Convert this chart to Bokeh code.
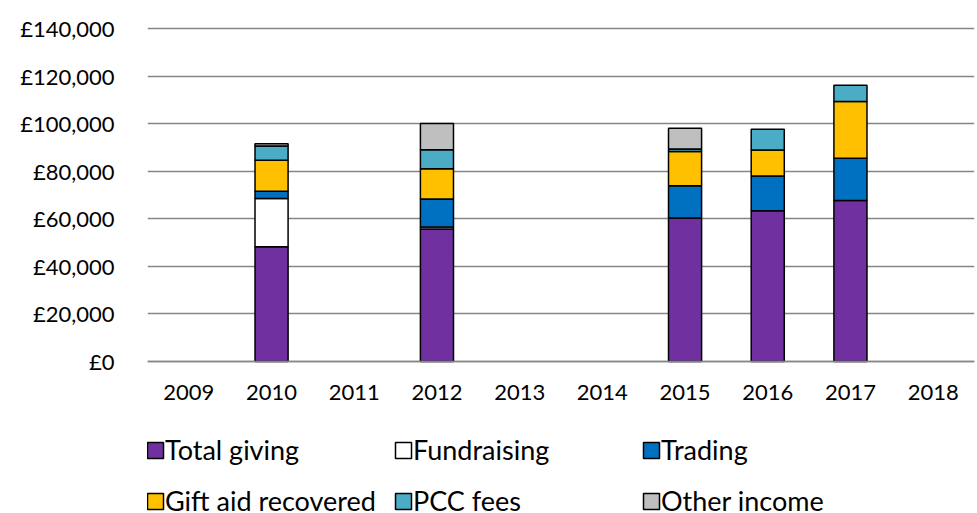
from bokeh.plotting import figure
from bokeh.models import (FactorRange, Range1d, FixedTicker, Legend, LegendItem,
                          ColumnDataSource)
from bokeh.embed import file_html
from bokeh.resources import INLINE

years = ["2009", "2010", "2011", "2012", "2013", "2014", "2015", "2016", "2017", "2018"]
total_giving = [0, 48300, 0, 55800, 0, 0, 60400, 63500, 67800, 0]
fundraising = [0, 20300, 0, 800, 0, 0, 0, 0, 0, 0]
trading = [0, 3100, 0, 11800, 0, 0, 13600, 14600, 17700, 0]
gift_aid = [0, 13000, 0, 12700, 0, 0, 14400, 10900, 23900, 0]
pcc_fees = [0, 6000, 0, 8000, 0, 0, 1000, 8800, 6900, 0]
other_income = [0, 1000, 0, 11100, 0, 0, 8800, 0, 0, 0]

series_names = ["Total giving", "Fundraising", "Trading", "Gift aid recovered", "PCC fees", "Other income"]
series_values = [total_giving, fundraising, trading, gift_aid, pcc_fees, other_income]
series_colors = ["#7030A0", "#FFFFFF", "#0070C0", "#FFC000", "#4BACC6", "#BFBFBF"]

y_ticks = [0, 20000, 40000, 60000, 80000, 100000, 120000, 140000]
y_tick_labels = ["£0", "£20,000", "£40,000", "£60,000", "£80,000", "£100,000", "£120,000", "£140,000"]

FONT = "Lato"

# layout (pixels)
W, H = 977, 513
TOP, LEFT, RIGHT = 26, 147, 3
FRAME_H = H - TOP            # frame runs to the bottom so the legend fits inside it
ZERO_PX = 335                # distance from frame top to the value axis zero line
Y_END = 141000
Y_START = -Y_END * (FRAME_H - ZERO_PX) / ZERO_PX

p = figure(x_range=FactorRange(*years, range_padding=0), y_range=Range1d(Y_START, Y_END),
           output_backend="svg", toolbar_location=None,
           width=W, height=H, frame_width=W - LEFT - RIGHT, frame_height=FRAME_H,
           min_border_left=LEFT, min_border_right=RIGHT, min_border_top=TOP, min_border_bottom=0)
p.outline_line_color = None
p.background_fill_color = "white"
p.border_fill_color = "white"

renderers = []
base = [0] * len(years)
for name, vals, col in zip(series_names, series_values, series_colors):
    xs, bots, tops = [], [], []
    for i, v in enumerate(vals):
        if v > 0:
            xs.append(years[i]); bots.append(base[i]); tops.append(base[i] + v)
        base[i] += v
    src = ColumnDataSource(dict(x=xs, bottom=bots, top=tops))
    r = p.vbar(x="x", bottom="bottom", top="top", width=0.4, source=src,
               fill_color=col, line_color="black", line_width=1.5)
    renderers.append(r)

# axes
p.yaxis.ticker = FixedTicker(ticks=y_ticks)
p.yaxis.major_label_overrides = {t: l for t, l in zip(y_ticks, y_tick_labels)}
p.yaxis.axis_line_color = None
p.yaxis.major_tick_line_color = None
p.yaxis.minor_tick_line_color = None
p.yaxis.major_label_standoff = 27
p.yaxis.major_label_text_font = FONT
p.yaxis.major_label_text_font_size = "22px"
p.yaxis.major_label_text_color = "black"

p.xaxis.fixed_location = 0
p.xaxis.axis_line_color = "#868686"
p.xaxis.axis_line_width = 1.5
p.xaxis.major_tick_line_color = None
p.xaxis.minor_tick_line_color = None
p.xaxis.major_label_standoff = 17
p.xaxis.major_label_text_font = FONT
p.xaxis.major_label_text_font_size = "22px"
p.xaxis.major_label_text_color = "black"

p.xgrid.grid_line_color = None
p.ygrid.grid_line_color = "#868686"
p.ygrid.grid_line_width = 1.5

items = [LegendItem(label=n, renderers=[r]) for n, r in zip(series_names, renderers)]

def make_legend(its, loc):
    return Legend(items=its, location=loc, orientation="horizontal",
                  glyph_width=20, glyph_height=20, label_standoff=0, label_width=228,
                  spacing=0, padding=0, margin=0,
                  label_text_font=FONT, label_text_font_size="27px",
                  label_text_color="black",
                  border_line_alpha=0, background_fill_alpha=0)

p.add_layout(make_legend(items[:3], (-2, 47)), "center")
p.add_layout(make_legend(items[3:], (-2, -4)), "center")

open("out.html", "w").write(file_html(p, INLINE))
